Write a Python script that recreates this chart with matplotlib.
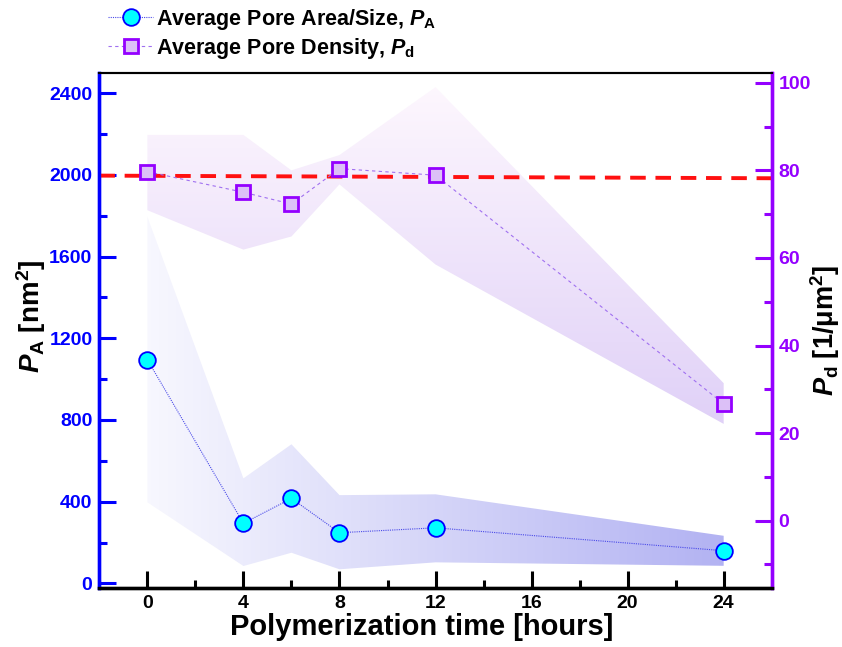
import numpy as np
import matplotlib
matplotlib.use("Agg")
import matplotlib.pyplot as plt
from matplotlib.lines import Line2D
from matplotlib.ticker import MultipleLocator

plt.rcParams['font.family'] = ['Liberation Sans', 'DejaVu Sans']
plt.rcParams['font.weight'] = 'bold'
plt.rcParams['mathtext.fontset'] = 'custom'
plt.rcParams['mathtext.rm'] = 'Liberation Sans:bold'
plt.rcParams['mathtext.it'] = 'Liberation Sans:bold:italic'
plt.rcParams['mathtext.bf'] = 'Liberation Sans:bold'

# ---- data ----
hours = [0, 4, 6, 8, 12, 24]
pore_area = [1095, 294, 416, 248, 272, 160]
pore_area_low = [397, 85, 150, 69, 103, 86]
pore_area_high = [1795, 514, 681, 432, 436, 233]
pore_density = [79.7, 75.0, 72.3, 80.4, 78.9, 26.7]
pore_density_low = [70.9, 61.9, 64.9, 76.8, 58.5, 22.1]
pore_density_high = [88.1, 88.1, 80.0, 83.5, 99.0, 31.4]
ref_line_x = [-2, 26]
ref_line_y = [78.8, 78.2]

BLUE = '#0000ff'
PURPLE = '#9400ff'

fig = plt.figure(figsize=(8.42, 6.47), dpi=100)
ax = fig.add_axes([0.118, 0.0917, 0.7985, 0.7959])
ax2 = ax.twinx()

XLIM = (-2, 26)
YLIM1 = (-21, 2500)
YLIM2 = (-15.3, 102.3)

# PA band with horizontal gradient
poly1 = ax.fill_between(hours, pore_area_low, pore_area_high, facecolor='none', edgecolor='none', zorder=1)
grad_h = np.linspace(0, 1, 256).reshape(1, -1)
c0 = np.array([0.97, 0.97, 0.997])
c1 = np.array([0.70, 0.70, 0.95])
img1 = c0[None, None, :] * (1 - grad_h[..., None]) + c1[None, None, :] * grad_h[..., None]
im1 = ax.imshow(img1, extent=[hours[0], hours[-1], YLIM1[0], YLIM1[1]], aspect='auto',
                origin='lower', zorder=1, interpolation='bilinear')
im1.set_clip_path(poly1.get_paths()[0], transform=ax.transData)

ax.plot(hours, pore_area, linestyle=(0, (1, 1)), color='#4a4ae8', linewidth=0.8,
        marker='o', markersize=12, markerfacecolor='#00ffff', markeredgecolor='#0000ff',
        markeredgewidth=1.3, zorder=3)

# Pd band with vertical gradient
poly2 = ax2.fill_between(hours, pore_density_low, pore_density_high, facecolor='none', edgecolor='none', zorder=1)
grad_v = np.linspace(0, 1, 256).reshape(-1, 1)
d0 = np.array([0.875, 0.815, 0.97])   # bottom
d1 = np.array([0.995, 0.97, 0.995])   # top
img2 = d0[None, None, :] * (1 - grad_v[..., None]) + d1[None, None, :] * grad_v[..., None]
img2 = img2.reshape(256, 1, 3)
im2 = ax2.imshow(img2, extent=[hours[0], hours[-1], 20, 100], aspect='auto',
                 origin='lower', zorder=1, interpolation='bilinear')
im2.set_clip_path(poly2.get_paths()[0], transform=ax2.transData)

ax2.plot(ref_line_x, ref_line_y, color='#ff1010', linestyle=(0, (4, 2.5)), linewidth=2.8, zorder=2)
ax2.plot(hours, pore_density, linestyle=(0, (3, 3)), color='#a070f0', linewidth=0.8,
         marker='s', markersize=10, markerfacecolor='#dcc0f7', markeredgecolor=PURPLE,
         markeredgewidth=2, zorder=3)

ax.set_xlim(*XLIM)
ax.set_ylim(*YLIM1)
ax2.set_ylim(*YLIM2)
ax2.set_xlim(*XLIM)

# ticks
ax.xaxis.set_major_locator(MultipleLocator(4))
ax.xaxis.set_minor_locator(MultipleLocator(2))
ax.yaxis.set_major_locator(MultipleLocator(400))
ax.yaxis.set_minor_locator(MultipleLocator(200))
ax2.yaxis.set_major_locator(MultipleLocator(20))
ax2.yaxis.set_minor_locator(MultipleLocator(10))

TS = 14
ax.tick_params(axis='x', which='major', direction='in', length=12, width=2.2, color='black',
               labelsize=TS, pad=5, top=False)
ax.tick_params(axis='x', which='minor', direction='in', length=6, width=2.2, color='black', top=False)
ax.tick_params(axis='y', which='major', direction='in', length=12, width=2.2, color=BLUE,
               labelcolor=BLUE, labelsize=TS, pad=5)
ax.tick_params(axis='y', which='minor', direction='in', length=6, width=2.2, color=BLUE)
ax2.tick_params(axis='y', which='major', direction='in', length=12, width=2.2, color=PURPLE,
                labelcolor=PURPLE, labelsize=TS, pad=5)
ax2.tick_params(axis='y', which='minor', direction='in', length=6, width=2.2, color=PURPLE)

for a in (ax, ax2):
    a.spines['left'].set_color(BLUE)
    a.spines['left'].set_linewidth(2.4)
    a.spines['right'].set_color(PURPLE)
    a.spines['right'].set_linewidth(2.4)
    a.spines['bottom'].set_color('black')
    a.spines['bottom'].set_linewidth(2.4)
    a.spines['top'].set_color('black')
    a.spines['top'].set_linewidth(1.5)

for lbl in ax.get_xticklabels() + ax.get_yticklabels() + ax2.get_yticklabels():
    lbl.set_fontweight('bold')

ax.set_xlabel('Polymerization time [hours]', fontsize=21, fontweight='bold')
ax.xaxis.set_label_coords(0.48, -0.049)
ax.set_ylabel(r'$P_\mathrm{A}$ [nm$^\mathrm{2}$]', fontsize=20, fontweight='bold')
ax.yaxis.set_label_coords(-0.077, 0.527)
ax2.set_ylabel(r'$P_\mathrm{d}$ [1/$\mathrm{\mu}$m$^\mathrm{2}$]', fontsize=19.5, fontweight='bold')
ax2.yaxis.set_label_coords(1.055, 0.50)

handles = [
    Line2D([], [], linestyle=(0, (1, 1)), color='#4a4ae8', linewidth=0.8, marker='o', markersize=12,
           markerfacecolor='#00ffff', markeredgecolor='#0000ff', markeredgewidth=1.3),
    Line2D([], [], linestyle=(0, (3, 3)), color='#a070f0', linewidth=0.8, marker='s', markersize=10,
           markerfacecolor='#dcc0f7', markeredgecolor=PURPLE, markeredgewidth=2),
]
labels = [r'Average Pore Area/Size, $P_\mathrm{A}$', r'Average Pore Density, $P_\mathrm{d}$']
fig.legend(handles, labels, loc='upper left', bbox_to_anchor=(0.118, 1.003), frameon=False,
           prop={'size': 15.5, 'weight': 'bold'}, handlelength=2.1, handletextpad=0.15,
           labelspacing=0.2, borderaxespad=0)

fig.savefig('out.png', dpi=100)
